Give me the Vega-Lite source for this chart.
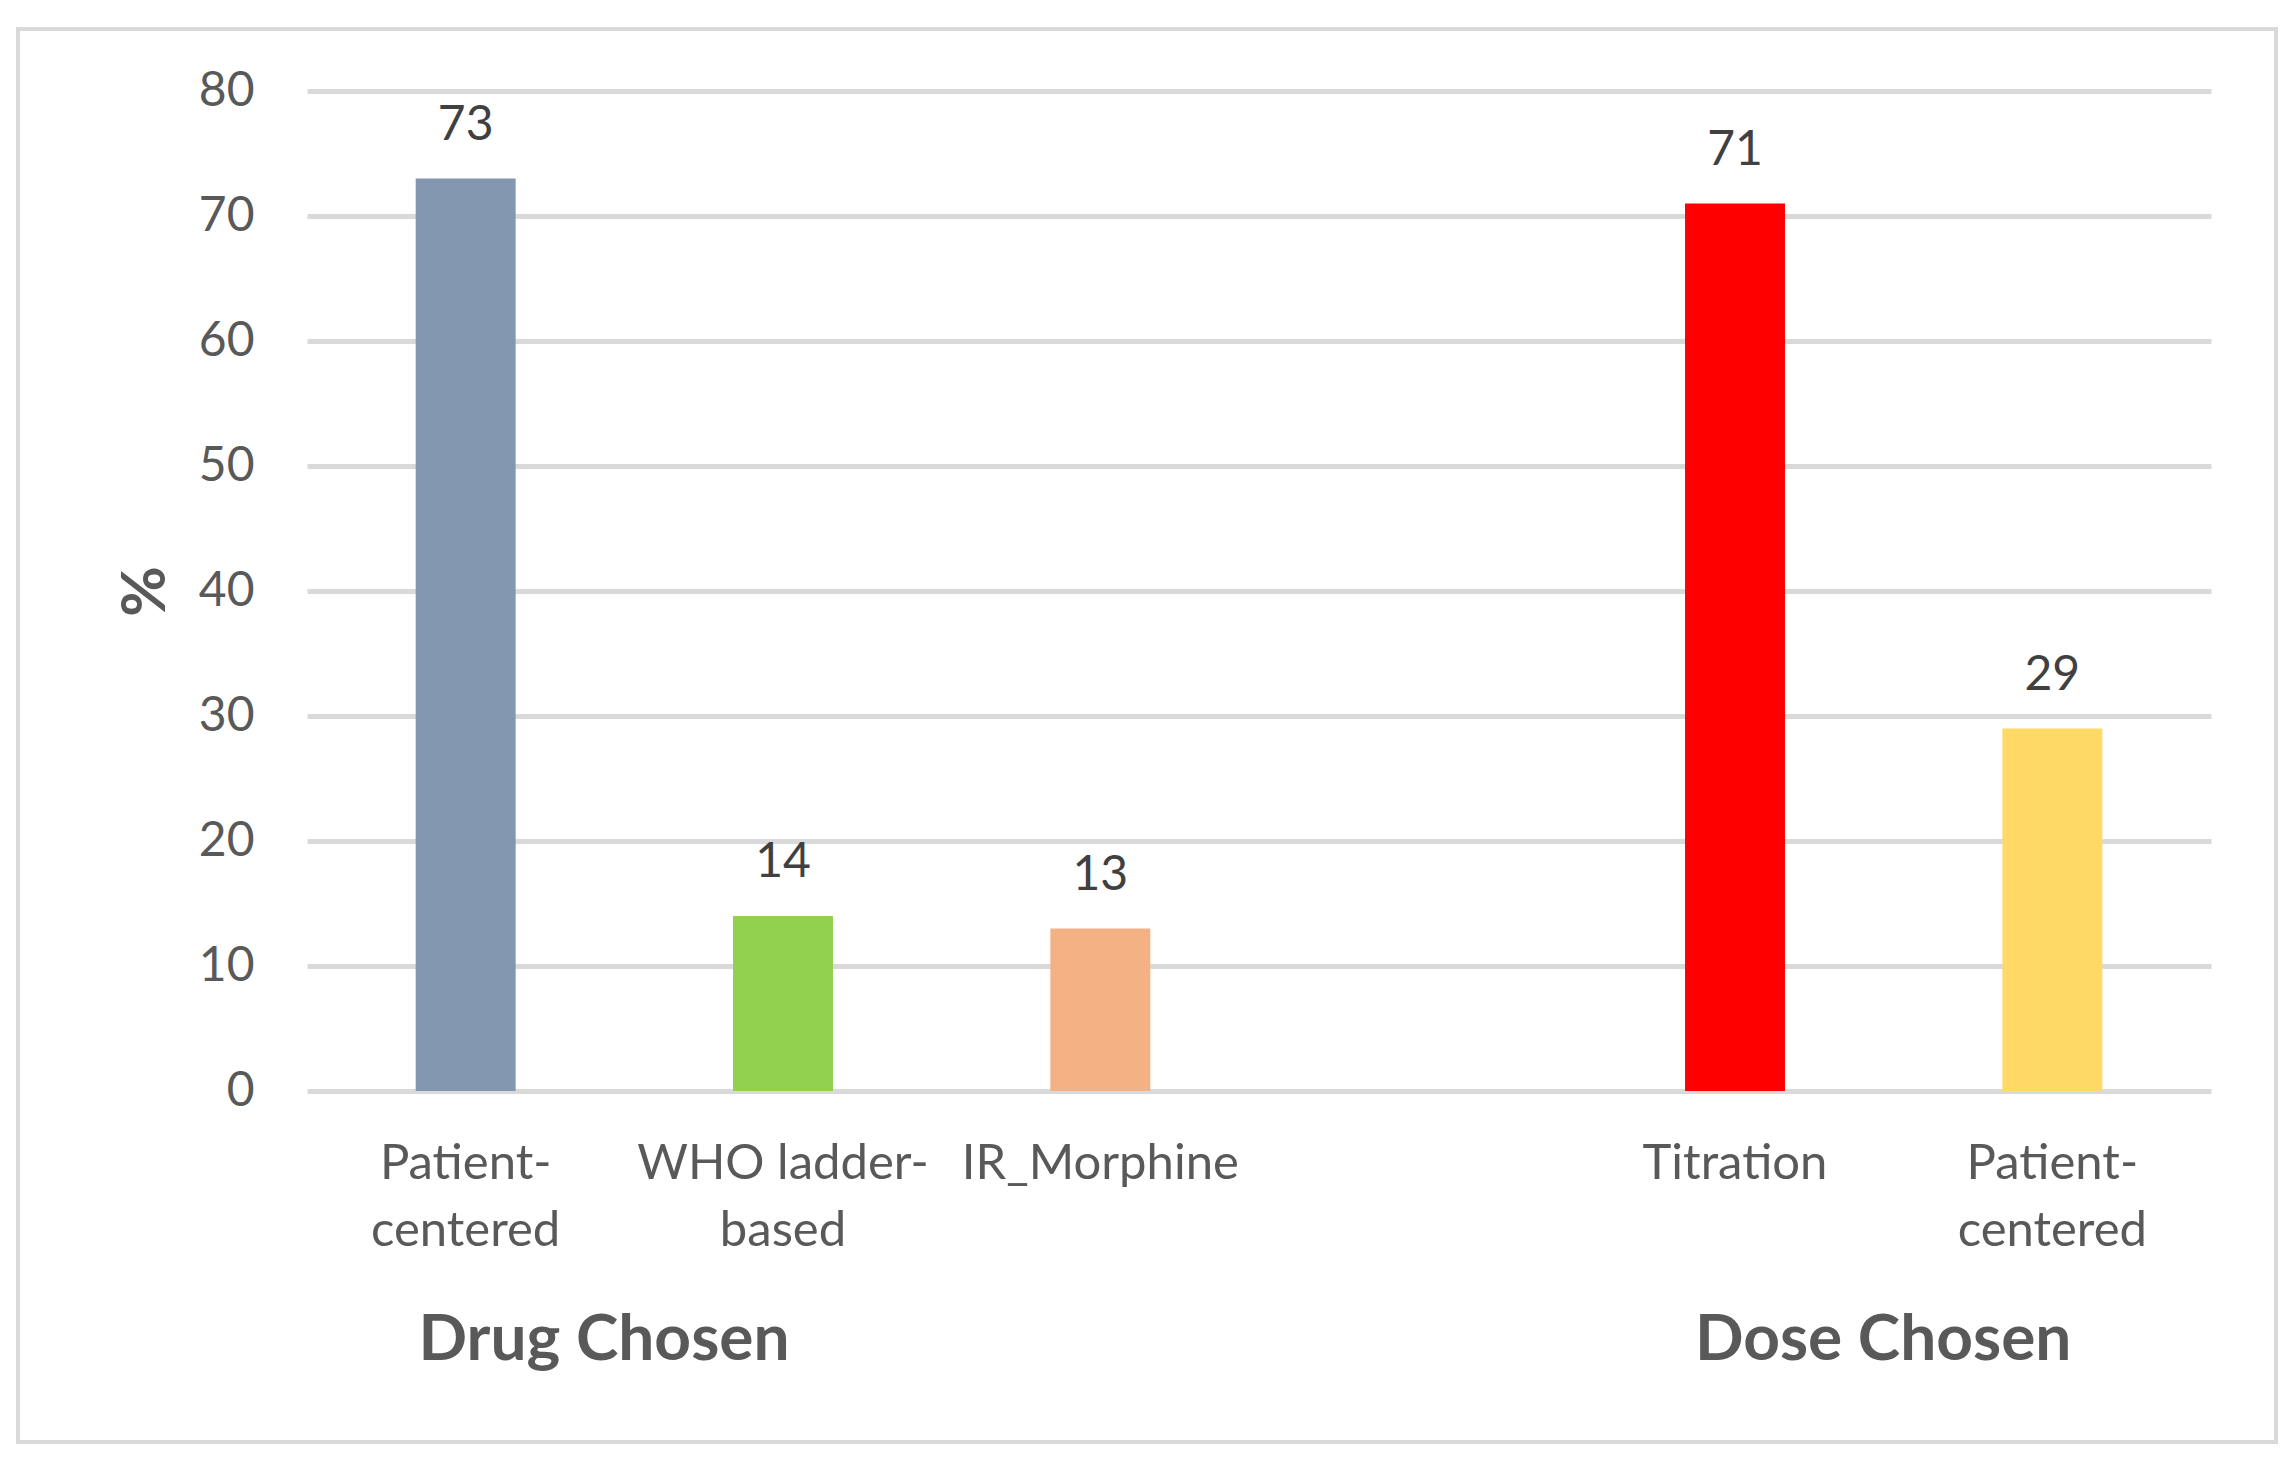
{
  "$schema": "https://vega.github.io/schema/vega-lite/v6.json",
  "width": 1904,
  "height": 1000,
  "autosize": {"type": "none"},
  "padding": {"left": 307, "top": 91, "right": 85, "bottom": 369},
  "background": "white",
  "config": {"view": {"stroke": null}, "font": "Lato"},
  "data": {
    "values": [
      {"id": "D1", "group": "Drug Chosen", "category": "Patient-centered", "value": 73},
      {"id": "D2", "group": "Drug Chosen", "category": "WHO ladder-based", "value": 14},
      {"id": "D3", "group": "Drug Chosen", "category": "IR_Morphine", "value": 13},
      {"id": "S1", "group": "Dose Chosen", "category": "Titration", "value": 71},
      {"id": "S2", "group": "Dose Chosen", "category": "Patient-centered", "value": 29}
    ]
  },
  "layer": [
    {
      "mark": {"type": "bar", "width": {"band": 0.315}},
      "encoding": {
        "x": {
          "field": "id",
          "type": "nominal",
          "scale": {"domain": ["D1", "D2", "D3", "GAP", "S1", "S2"], "paddingInner": 0, "paddingOuter": 0},
          "axis": {
            "title": null,
            "labelExpr": "datum.value == 'D1' || datum.value == 'S2' ? ['Patient-', 'centered'] : datum.value == 'D2' ? ['WHO ladder-', 'based'] : datum.value == 'D3' ? 'IR_Morphine' : datum.value == 'S1' ? 'Titration' : ''",
            "labelFont": "Lato",
            "labelFontSize": 49,
            "labelColor": "#595959",
            "labelPadding": 48,
            "labelLineHeight": 67,
            "labelAngle": 0,
            "labelAlign": "center",
            "bandPosition": 0.5,
            "labelBaseline": "top",
            "labelLimit": 500,
            "ticks": false,
            "tickSize": 0,
            "domain": false
          }
        },
        "y": {
          "field": "value",
          "type": "quantitative",
          "scale": {"domain": [0, 80], "nice": false},
          "axis": {
            "title": "%",
            "titleFont": "Lato",
            "titleFontSize": 62,
            "titleFontWeight": "bold",
            "titleColor": "#595959",
            "titlePadding": 21,
            "values": [0, 10, 20, 30, 40, 50, 60, 70, 80],
            "labelFont": "Lato",
            "labelFontSize": 48,
            "labelColor": "#595959",
            "labelPadding": 53,
            "grid": true,
            "gridColor": "#D9D9D9",
            "gridWidth": 5,
            "domain": false,
            "ticks": false,
            "tickSize": 0
          }
        },
        "color": {
          "field": "id",
          "type": "nominal",
          "scale": {"domain": ["D1", "D2", "D3", "S1", "S2"], "range": ["#8497B0", "#92D050", "#F4B183", "#FF0000", "#FFD966"]},
          "legend": null
        }
      }
    },
    {
      "mark": {"type": "text", "baseline": "alphabetic", "align": "center", "dy": -39, "fontSize": 48, "font": "Lato", "color": "#404040"},
      "encoding": {
        "x": {"field": "id", "type": "nominal"},
        "y": {"field": "value", "type": "quantitative"},
        "text": {"field": "value", "type": "quantitative"}
      }
    },
    {
      "transform": [{"filter": "datum.id == 'D1'"}],
      "mark": {"type": "text", "baseline": "alphabetic", "align": "center", "dy": 269, "fontSize": 64, "fontWeight": "bold", "font": "Lato", "color": "#595959", "clip": false},
      "encoding": {
        "x": {"field": "id", "type": "nominal", "bandPosition": 0.936},
        "y": {"datum": 0, "type": "quantitative"},
        "text": {"field": "group", "type": "nominal"}
      }
    },
    {
      "transform": [{"filter": "datum.id == 'S1'"}],
      "mark": {"type": "text", "baseline": "alphabetic", "align": "center", "dy": 269, "fontSize": 64, "fontWeight": "bold", "font": "Lato", "color": "#595959", "clip": false},
      "encoding": {
        "x": {"field": "id", "type": "nominal", "bandPosition": 0.967},
        "y": {"datum": 0, "type": "quantitative"},
        "text": {"field": "group", "type": "nominal"}
      }
    },
    {
      "transform": [{"filter": "datum.id == 'D1'"}],
      "mark": {"type": "rect", "filled": false, "stroke": "#D9D9D9", "strokeWidth": 4, "clip": false},
      "encoding": {
        "x": {"datum": "D1", "bandPosition": -0.9107},
        "x2": {"datum": "S2", "bandPosition": 1.2048},
        "y": {"datum": 84.96, "type": "quantitative"},
        "y2": {"datum": -28.08}
      }
    }
  ]
}
